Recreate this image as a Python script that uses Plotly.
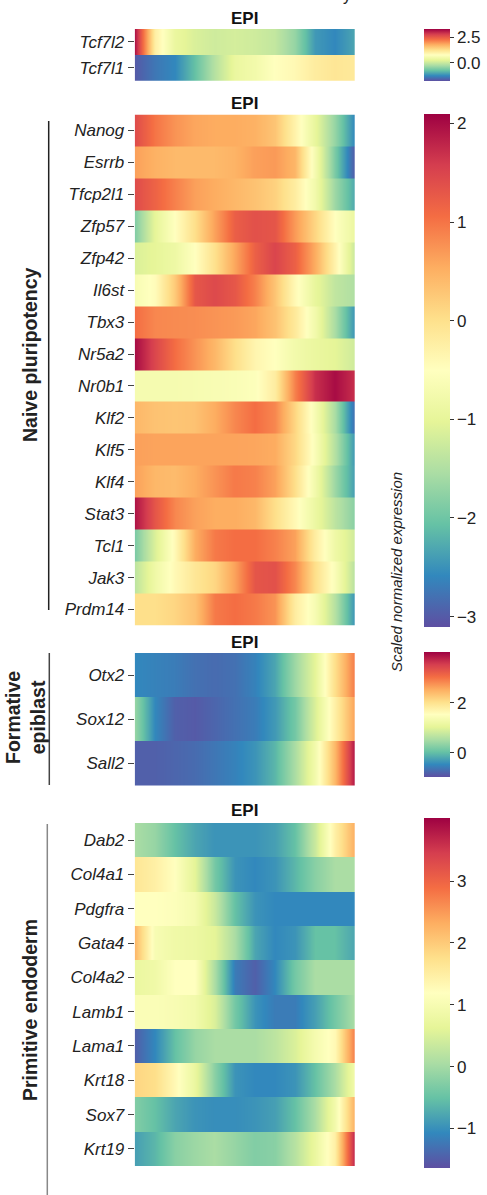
import plotly.graph_objects as go

W, H = 487, 1195
FONT = "Liberation Sans, Arial, sans-serif"

# ---------------- data ----------------
p1_genes = ["Tcf7l2", "Tcf7l1"]
p1_z = [
    [3.17, 1.03, 0.37, 0.16, 0.06, 0.11, 0.06, -0.04, -0.40, -1.11, -1.26, -1.00],
    [-1.67, -1.41, -1.26, -0.75, -0.14, 0.37, 0.52, 0.78, 0.88, 1.08, 1.18, 1.13],
]
p1_range = (-1.77, 3.32)
p1_ticks = [0.0, 2.5]
p1_ticktext = ["0.0", "2.5"]

p2_genes = ["Nanog", "Esrrb", "Tfcp2l1", "Zfp57", "Zfp42", "Il6st", "Tbx3", "Nr5a2",
            "Nr0b1", "Klf2", "Klf5", "Klf4", "Stat3", "Tcl1", "Jak3", "Prdm14"]
p2_z = [
    [1.42, 1.00, 0.75, 0.60, 0.55, 0.55, 0.50, 0.30, -0.30, -0.95, -1.70, -2.60],
    [0.65, 0.50, 0.42, 0.42, 0.42, 0.48, 0.65, 0.70, 0.45, -0.70, -1.90, -3.00],
    [1.42, 1.17, 0.90, 0.65, 0.54, 0.44, 0.33, 0.17, -0.20, -0.76, -1.64, -2.30],
    [-1.85, -1.00, -0.50, 0.02, 0.64, 1.22, 1.37, 1.32, 0.70, 0.12, -0.50, -0.90],
    [-1.12, -1.00, -0.85, -0.50, 0.00, 0.60, 1.20, 1.50, 1.20, 0.55, -0.30, -1.30],
    [-0.66, -0.45, 0.25, 1.30, 1.45, 1.30, 0.90, 0.30, -0.40, -0.95, -1.35, -1.50],
    [1.06, 0.85, 0.82, 0.80, 0.75, 0.70, 0.60, 0.33, -0.14, -0.76, -1.54, -2.48],
    [2.00, 1.48, 1.06, 0.75, 0.44, 0.02, -0.34, -0.50, -0.76, -0.92, -1.02, -1.23],
    [-0.70, -0.70, -0.70, -0.68, -0.65, -0.62, -0.55, -0.20, 0.90, 1.70, 2.00, 1.70],
    [0.44, 0.33, 0.30, 0.33, 0.54, 0.85, 1.06, 0.85, 0.12, -0.66, -1.54, -2.84],
    [0.65, 0.62, 0.62, 0.62, 0.62, 0.62, 0.60, 0.55, 0.10, -0.60, -1.45, -2.45],
    [0.64, 0.44, 0.40, 0.54, 0.75, 0.96, 0.90, 0.64, 0.02, -0.76, -1.64, -2.40],
    [1.94, 1.32, 0.85, 0.64, 0.54, 0.54, 0.44, 0.02, -0.40, -0.87, -1.38, -1.80],
    [-1.90, -1.12, -0.40, 0.54, 0.96, 1.06, 1.06, 0.90, 0.64, -0.20, -0.82, -1.23],
    [-1.38, -0.82, -0.40, -0.10, 0.12, 0.64, 1.32, 1.37, 0.85, 0.02, -0.60, -1.44],
    [0.02, 0.02, 0.12, 0.33, 0.96, 1.06, 0.96, 0.75, -0.20, -0.66, -1.44, -2.48],
]
p2_range = (-3.10, 2.10)
p2_ticks = [-3, -2, -1, 0, 1, 2]
p2_ticktext = ["\u22123", "\u22122", "\u22121", "0", "1", "2"]

p3_genes = ["Otx2", "Sox12", "Sall2"]
p3_z = [
    [-0.47, -0.52, -0.57, -0.67, -0.72, -0.67, -0.52, -0.22, 0.43, 1.03, 2.03, 2.93],
    [0.38, -0.47, -0.82, -0.87, -0.77, -0.67, -0.57, -0.32, 0.13, 0.93, 1.78, 2.63],
    [-0.82, -0.82, -0.77, -0.72, -0.62, -0.52, -0.37, -0.07, 0.53, 1.28, 2.43, 3.88],
]
p3_range = (-0.97, 4.03)
p3_ticks = [0, 2]
p3_ticktext = ["0", "2"]

p4_genes = ["Dab2", "Col4a1", "Pdgfra", "Gata4", "Col4a2", "Lamb1", "Lama1", "Krt18", "Sox7", "Krt19"]
p4_z = [
    [0.06, -0.11, -0.51, -0.79, -0.96, -0.96, -0.96, -0.85, -0.51, 0.34, 1.47, 2.32],
    [1.64, 1.47, 1.19, 0.62, -0.39, -0.96, -1.07, -0.96, -0.62, -0.22, 0.06, 0.06],
    [1.19, 1.19, 1.13, 0.96, 0.34, -0.51, -0.96, -1.07, -1.07, -1.07, -1.07, -1.07],
    [2.21, 1.02, 0.85, 0.79, 0.62, 0.06, -0.79, -1.07, -0.96, -0.51, -0.51, -0.79],
    [0.74, 0.85, 1.19, 1.19, 0.06, -1.19, -1.47, -1.07, -0.39, 0.06, 0.06, 0.06],
    [1.08, 1.08, 1.02, 0.91, 0.51, -0.39, -0.96, -1.19, -1.19, -0.85, -0.39, 0.06],
    [-1.47, -1.07, -0.51, -0.11, 0.06, 0.06, 0.06, 0.23, 0.51, 0.96, 1.30, 2.77],
    [1.87, 1.76, 1.30, 0.74, -0.22, -0.96, -1.07, -1.07, -0.96, -0.51, 0.06, 0.91],
    [-0.28, -0.51, -0.79, -0.96, -1.02, -1.02, -0.96, -0.85, -0.51, 0.06, 0.91, 2.32],
    [-0.85, -0.62, -0.22, -0.06, 0.06, -0.11, -0.28, -0.22, 0.17, 0.74, 1.47, 3.74],
]
p4_range = (-1.64, 4.02)
p4_ticks = [-1, 0, 1, 2, 3]
p4_ticktext = ["\u22121", "0", "1", "2", "3"]

groups = ["Naive pluripotency", "Formative<br>epiblast", "Primitive endoderm"]

# ---------------- style / layout ----------------
spectral_r = [
    [0.0, "rgb(94,79,162)"], [0.1, "rgb(50,136,189)"], [0.2, "rgb(102,194,165)"],
    [0.3, "rgb(171,221,164)"], [0.4, "rgb(230,245,152)"], [0.5, "rgb(255,255,191)"],
    [0.6, "rgb(254,224,139)"], [0.7, "rgb(253,174,97)"], [0.8, "rgb(244,109,67)"],
    [0.9, "rgb(213,62,79)"], [1.0, "rgb(158,1,66)"],
]

HX0, HX1 = 134.7, 355.0
CBX = 424.0

panels = [
    # genes, z, range, ticks, ticktext, heat top, heat bottom, cb top, cb bottom, title y
    (p1_genes, p1_z, p1_range, p1_ticks, p1_ticktext, 29.0, 80.7, 29.0, 80.7, 18),
    (p2_genes, p2_z, p2_range, p2_ticks, p2_ticktext, 114.5, 625.5, 113.5, 626.0, 103),
    (p3_genes, p3_z, p3_range, p3_ticks, p3_ticktext, 653.0, 785.5, 652.0, 777.0, 642),
    (p4_genes, p4_z, p4_range, p4_ticks, p4_ticktext, 823.0, 1166.0, 818.0, 1168.0, 810),
]


def px_y(v):
    return 1 - v / H


fig = go.Figure()
layout = dict(
    width=W, height=H, margin=dict(l=0, r=0, t=0, b=0),
    paper_bgcolor="white", plot_bgcolor="white", showlegend=False,
    font=dict(family=FONT, color="#222"),
)
annotations = []
shapes = []

for i, (genes, z, (zmin, zmax), tv, tt, ht, hb, ct, cb, ty) in enumerate(panels):
    n = len(genes)
    ncol = len(z[0])
    zz, yy = [], []
    for r, row in enumerate(z):
        zz += [row, row]
        yy += [r - 0.499, r + 0.499]
    k = "" if i == 0 else str(i + 1)
    fig.add_trace(go.Heatmap(
        z=zz, x=list(range(ncol)), y=yy, zsmooth="best",
        colorscale=spectral_r, zmin=zmin, zmax=zmax,
        xaxis="x" + k, yaxis="y" + k,
        colorbar=dict(
            x=CBX / W, xanchor="left", xpad=0, ypad=0,
            y=px_y(ct), yanchor="top", len=cb - ct, lenmode="pixels",
            thickness=26, thicknessmode="pixels", outlinewidth=0,
            tickvals=tv, ticktext=tt, ticks="outside", ticklen=4,
            tickwidth=1, tickcolor="#333",
            tickfont=dict(family=FONT, size=17, color="#222"),
        ),
    ))
    layout["xaxis" + k] = dict(
        domain=[HX0 / W, HX1 / W], range=[0, ncol - 1], visible=False,
        anchor="y" + k,
    )
    layout["yaxis" + k] = dict(
        domain=[px_y(hb), px_y(ht)], range=[n - 0.5, -0.5],
        tickvals=list(range(n)), ticktext=genes, ticks="outside",
        ticklen=6, tickwidth=1.2, tickcolor="#444", showgrid=False,
        zeroline=False, showline=False, anchor="x" + k,
        tickfont=dict(family=FONT, size=17, color="#222", style="italic"),
    )
    annotations.append(dict(
        x=(HX0 + HX1) / 2 / W, y=px_y(ty), xref="paper", yref="paper",
        text="<b>EPI</b>", showarrow=False, xanchor="center", yanchor="middle",
        font=dict(family=FONT, size=17, color="#111"),
    ))

# group brackets
group_lines = [(48.7, 121, 610, "#222"), (49.3, 653, 785, "#444"), (47.3, 824, 1195, "#888")]
group_text = [(30, 355), (25, 718), (30, 1010)]
for (lx, y0, y1, col), (gx, gy), g in zip(group_lines, group_text, groups):
    shapes.append(dict(type="line", xref="paper", yref="paper",
                       x0=lx / W, x1=lx / W, y0=px_y(y0), y1=px_y(y1),
                       line=dict(color=col, width=1.5)))
    annotations.append(dict(
        x=gx / W, y=px_y(gy), xref="paper", yref="paper", text="<b>" + g + "</b>",
        showarrow=False, textangle=-90, xanchor="center", yanchor="middle",
        font=dict(family=FONT, size=19.5, color="#222"),
    ))

# colorbar label
annotations.append(dict(
    x=396 / W, y=px_y(572), xref="paper", yref="paper",
    text="<i>Scaled normalized expression</i>", showarrow=False, textangle=-90,
    xanchor="center", yanchor="middle",
    font=dict(family=FONT, size=15, color="#222"),
))

# clipped text at the very top edge
annotations.append(dict(x=347 / W, y=px_y(-4), xref="paper", yref="paper", text="y",
                        showarrow=False, xanchor="center", yanchor="middle",
                        font=dict(family=FONT, size=16, color="#222")))
annotations.append(dict(x=447 / W, y=px_y(-6), xref="paper", yref="paper", text="Mad",
                        showarrow=False, xanchor="left", yanchor="middle",
                        font=dict(family=FONT, size=16, color="#222")))

layout["annotations"] = annotations
layout["shapes"] = shapes
fig.update_layout(**layout)
fig.write_html("out.html", config={"displayModeBar": False},
               post_script="document.body.style.margin='0px';")
